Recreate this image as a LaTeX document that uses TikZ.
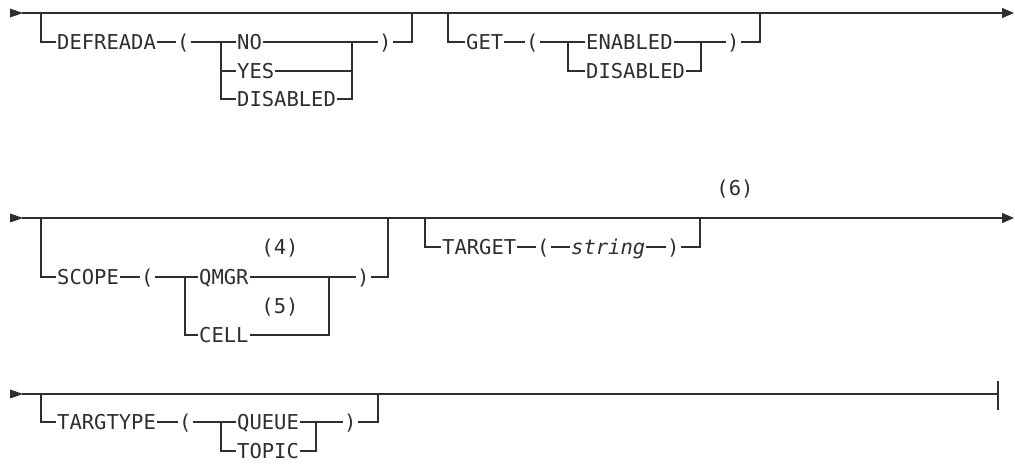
\documentclass[tikz,border=0pt]{standalone}
\usepackage{fontspec}
\newfontfamily\railfont{DejaVu Sans Mono}
\usetikzlibrary{arrows.meta}
\definecolor{railgray}{HTML}{2E2E2E}
\tikzset{
  rail/.style={draw=railgray, line width=1.3pt},
  tok/.style={font=\railfont\fontsize{20.5pt}{24pt}\selectfont, text=railgray, inner xsep=1pt, inner ysep=0pt, text height=15pt, text depth=0pt, anchor=west},
  note/.style={tok, anchor=center},
  endarrow/.style={-{Triangle[length=12pt,width=10pt]}},
}
\begin{document}
\begin{tikzpicture}[x=1pt,y=-1pt]
\useasboundingbox (0,0) rectangle (1015,464);
% ---------- Row 1 ----------
\fill[railgray] (10,8.5) -- (23,13) -- (10,17.5) -- cycle;
\coordinate (r1s) at (22,13);
\coordinate (r1e) at (1014,13);
\draw[rail,endarrow] (r1s) -- (r1e);
\coordinate (b1) at (41,13);
\coordinate (b1e) at (412,13);
\node[tok] (d1) at (56,42) {DEFREADA};
\node[tok] (p1o) at (176,42) {(};
\node[tok] (no) at (236,42) {NO};
\node[tok] (yes) at (236,71) {YES};
\node[tok] (dis1) at (236,99) {DISABLED};
\node[tok] (p1c) at (378,42) {)};
\coordinate (v1l) at (221,42);
\coordinate (v1r) at (352,42);
\draw[rail] (b1) |- (d1.west);
\draw[rail] (d1.east) -- (p1o.west);
\draw[rail] (p1o.east) -- (no.west);
\draw[rail] (v1l) |- (yes.west);
\draw[rail] (v1l) |- (dis1.west);
\draw[rail] (no.east) -- (v1r);
\draw[rail] (yes.east) -| (v1r);
\draw[rail] (dis1.east) -| (v1r);
\draw[rail] (v1r) -- (p1c.west);
\draw[rail] (p1c.east) -| (b1e);
% GET
\coordinate (b2) at (448,13);
\coordinate (b2e) at (760,13);
\node[tok] (get) at (465,42) {GET};
\node[tok] (p2o) at (525,42) {(};
\node[tok] (en) at (585,42) {ENABLED};
\node[tok] (dis2) at (585,71) {DISABLED};
\node[tok] (p2c) at (726,42) {)};
\coordinate (v2l) at (568,42);
\coordinate (v2r) at (701,42);
\draw[rail] (b2) |- (get.west);
\draw[rail] (get.east) -- (p2o.west);
\draw[rail] (p2o.east) -- (en.west);
\draw[rail] (v2l) |- (dis2.west);
\draw[rail] (en.east) -- (v2r);
\draw[rail] (dis2.east) -| (v2r);
\draw[rail] (v2r) -- (p2c.west);
\draw[rail] (p2c.east) -| (b2e);
% ---------- Row 2 ----------
\fill[railgray] (10,213.5) -- (23,218) -- (10,222.5) -- cycle;
\coordinate (r2s) at (22,218);
\coordinate (r2e) at (1014,218);
\draw[rail,endarrow] (r2s) -- (r2e);
\coordinate (b3) at (41,218);
\coordinate (b3e) at (388,218);
\node[tok] (scope) at (56,277) {SCOPE};
\node[tok] (p3o) at (140,277) {(};
\node[tok] (qmgr) at (198,277) {QMGR};
\node[note] (n4) at (280,247) {(4)};
\node[tok] (cell) at (198,335) {CELL};
\node[note] (n5) at (280,306) {(5)};
\node[tok] (p3c) at (356,277) {)};
\coordinate (v3l) at (185,277);
\coordinate (v3r) at (329,277);
\draw[rail] (b3) |- (scope.west);
\draw[rail] (scope.east) -- (p3o.west);
\draw[rail] (p3o.east) -- (qmgr.west);
\draw[rail] (v3l) |- (cell.west);
\draw[rail] (qmgr.east) -- (v3r);
\draw[rail] (cell.east) -| (v3r);
\draw[rail] (v3r) -- (p3c.west);
\draw[rail] (p3c.east) -| (b3e);
% TARGET
\coordinate (b4) at (425,218);
\coordinate (b4e) at (700,218);
\node[tok] (target) at (441,247) {TARGET};
\node[tok] (p4o) at (536,247) {(};
\node[tok] (str) at (570,247) {\itshape string};
\node[tok] (p4c) at (666,247) {)};
\node[note] (n6) at (735,188) {(6)};
\draw[rail] (b4) |- (target.west);
\draw[rail] (target.east) -- (p4o.west);
\draw[rail] (p4o.east) -- (str.west);
\draw[rail] (str.east) -- (p4c.west);
\draw[rail] (p4c.east) -| (b4e);
% ---------- Row 3 ----------
\fill[railgray] (10,389.5) -- (23,394) -- (10,398.5) -- cycle;
\coordinate (r3s) at (22,394);
\coordinate (r3e) at (998,394);
\draw[rail] (r3s) -- (r3e);
\coordinate (t3a) at (998,381);
\coordinate (t3b) at (998,410);
\draw[rail] (t3a) -- (t3b);
\coordinate (k1) at (382,394);
\coordinate (k2) at (406,394);
\draw[draw=railgray, line width=2.2pt] (k1) -- (k2);
\coordinate (b5) at (41,394);
\coordinate (b5e) at (378,394);
\node[tok] (targtype) at (56,422) {TARGTYPE};
\node[tok] (p5o) at (178,422) {(};
\node[tok] (queue) at (236,422) {QUEUE};
\node[tok] (topic) at (236,451) {TOPIC};
\node[tok] (p5c) at (343,422) {)};
\coordinate (v5l) at (221,422);
\coordinate (v5r) at (316,422);
\draw[rail] (b5) |- (targtype.west);
\draw[rail] (targtype.east) -- (p5o.west);
\draw[rail] (p5o.east) -- (queue.west);
\draw[rail] (v5l) |- (topic.west);
\draw[rail] (queue.east) -- (v5r);
\draw[rail] (topic.east) -| (v5r);
\draw[rail] (v5r) -- (p5c.west);
\draw[rail] (p5c.east) -| (b5e);
\end{tikzpicture}
\end{document}
